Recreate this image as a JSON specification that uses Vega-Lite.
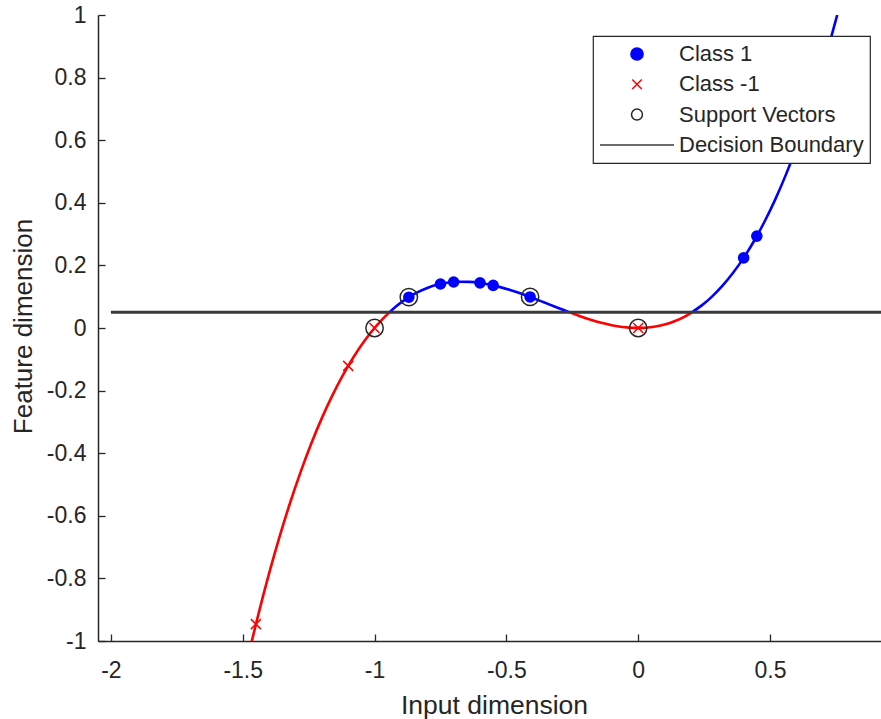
{
  "$schema": "https://vega.github.io/schema/vega-lite/v6.json",
  "autosize": {"type": "none"},
  "width": 783,
  "height": 626,
  "padding": {"left": 98, "top": 15, "right": 0, "bottom": 78},
  "background": "white",
  "config": {"view": {"stroke": null}},
  "datasets": {
    "curve": [
      {"x": -1.4656, "y": -1.0, "series": "Class -1", "seg": 1},
      {"x": -1.44, "y": -0.91238, "series": "Class -1", "seg": 1},
      {"x": -1.40, "y": -0.784, "series": "Class -1", "seg": 1},
      {"x": -1.36, "y": -0.665856, "series": "Class -1", "seg": 1},
      {"x": -1.32, "y": -0.557568, "series": "Class -1", "seg": 1},
      {"x": -1.28, "y": -0.458752, "series": "Class -1", "seg": 1},
      {"x": -1.24, "y": -0.369024, "series": "Class -1", "seg": 1},
      {"x": -1.20, "y": -0.288, "series": "Class -1", "seg": 1},
      {"x": -1.16, "y": -0.215296, "series": "Class -1", "seg": 1},
      {"x": -1.12, "y": -0.150528, "series": "Class -1", "seg": 1},
      {"x": -1.08, "y": -0.093312, "series": "Class -1", "seg": 1},
      {"x": -1.04, "y": -0.043264, "series": "Class -1", "seg": 1},
      {"x": -1.00, "y": 0.0, "series": "Class -1", "seg": 1},
      {"x": -0.97, "y": 0.028227, "series": "Class -1", "seg": 1},
      {"x": -0.944, "y": 0.0499, "series": "Class -1", "seg": 1},
      {"x": -0.944, "y": 0.0499, "series": "Class 1", "seg": 2},
      {"x": -0.92, "y": 0.067712, "series": "Class 1", "seg": 2},
      {"x": -0.88, "y": 0.092928, "series": "Class 1", "seg": 2},
      {"x": -0.84, "y": 0.112896, "series": "Class 1", "seg": 2},
      {"x": -0.80, "y": 0.128, "series": "Class 1", "seg": 2},
      {"x": -0.76, "y": 0.138624, "series": "Class 1", "seg": 2},
      {"x": -0.72, "y": 0.145152, "series": "Class 1", "seg": 2},
      {"x": -0.68, "y": 0.147968, "series": "Class 1", "seg": 2},
      {"x": -0.64, "y": 0.147456, "series": "Class 1", "seg": 2},
      {"x": -0.60, "y": 0.144, "series": "Class 1", "seg": 2},
      {"x": -0.56, "y": 0.137984, "series": "Class 1", "seg": 2},
      {"x": -0.52, "y": 0.129792, "series": "Class 1", "seg": 2},
      {"x": -0.48, "y": 0.119808, "series": "Class 1", "seg": 2},
      {"x": -0.44, "y": 0.108416, "series": "Class 1", "seg": 2},
      {"x": -0.40, "y": 0.096, "series": "Class 1", "seg": 2},
      {"x": -0.36, "y": 0.082944, "series": "Class 1", "seg": 2},
      {"x": -0.32, "y": 0.069632, "series": "Class 1", "seg": 2},
      {"x": -0.28, "y": 0.056448, "series": "Class 1", "seg": 2},
      {"x": -0.26, "y": 0.050024, "series": "Class 1", "seg": 2},
      {"x": -0.26, "y": 0.050024, "series": "Class -1", "seg": 3},
      {"x": -0.22, "y": 0.037752, "series": "Class -1", "seg": 3},
      {"x": -0.18, "y": 0.026568, "series": "Class -1", "seg": 3},
      {"x": -0.14, "y": 0.016856, "series": "Class -1", "seg": 3},
      {"x": -0.10, "y": 0.009, "series": "Class -1", "seg": 3},
      {"x": -0.06, "y": 0.003384, "series": "Class -1", "seg": 3},
      {"x": -0.02, "y": 0.000392, "series": "Class -1", "seg": 3},
      {"x": 0.02, "y": 0.000408, "series": "Class -1", "seg": 3},
      {"x": 0.06, "y": 0.003816, "series": "Class -1", "seg": 3},
      {"x": 0.10, "y": 0.011, "series": "Class -1", "seg": 3},
      {"x": 0.14, "y": 0.022344, "series": "Class -1", "seg": 3},
      {"x": 0.18, "y": 0.038232, "series": "Class -1", "seg": 3},
      {"x": 0.204, "y": 0.050106, "series": "Class -1", "seg": 3},
      {"x": 0.204, "y": 0.050106, "series": "Class 1", "seg": 4},
      {"x": 0.24, "y": 0.071424, "series": "Class 1", "seg": 4},
      {"x": 0.28, "y": 0.100352, "series": "Class 1", "seg": 4},
      {"x": 0.32, "y": 0.135168, "series": "Class 1", "seg": 4},
      {"x": 0.36, "y": 0.176256, "series": "Class 1", "seg": 4},
      {"x": 0.40, "y": 0.224, "series": "Class 1", "seg": 4},
      {"x": 0.44, "y": 0.278784, "series": "Class 1", "seg": 4},
      {"x": 0.48, "y": 0.340992, "series": "Class 1", "seg": 4},
      {"x": 0.52, "y": 0.411008, "series": "Class 1", "seg": 4},
      {"x": 0.56, "y": 0.489216, "series": "Class 1", "seg": 4},
      {"x": 0.60, "y": 0.576, "series": "Class 1", "seg": 4},
      {"x": 0.64, "y": 0.671744, "series": "Class 1", "seg": 4},
      {"x": 0.68, "y": 0.776832, "series": "Class 1", "seg": 4},
      {"x": 0.72, "y": 0.891648, "series": "Class 1", "seg": 4},
      {"x": 0.755, "y": 1.0004, "series": "Class 1", "seg": 4}
    ],
    "pos": [
      {"x": -0.87, "y": 0.0984, "series": "Class 1"},
      {"x": -0.75, "y": 0.1406, "series": "Class 1"},
      {"x": -0.70, "y": 0.147, "series": "Class 1"},
      {"x": -0.60, "y": 0.144, "series": "Class 1"},
      {"x": -0.55, "y": 0.1361, "series": "Class 1"},
      {"x": -0.41, "y": 0.0992, "series": "Class 1"},
      {"x": 0.40, "y": 0.224, "series": "Class 1"},
      {"x": 0.45, "y": 0.2936, "series": "Class 1"}
    ],
    "neg": [
      {"x": -1.45, "y": -0.946, "series": "Class -1"},
      {"x": -1.10, "y": -0.121, "series": "Class -1"},
      {"x": -1.00, "y": 0.0, "series": "Class -1"},
      {"x": 0.00, "y": 0.0, "series": "Class -1"}
    ],
    "sv": [
      {"x": -1.00, "y": 0.0, "series": "Support Vectors"},
      {"x": -0.87, "y": 0.0984, "series": "Support Vectors"},
      {"x": -0.41, "y": 0.0992, "series": "Support Vectors"},
      {"x": 0.00, "y": 0.0, "series": "Support Vectors"}
    ],
    "db": [
      {"x": -2.0, "x2": 1.0, "y": 0.05, "series": "Decision Boundary"}
    ]
  },
  "encoding": {
    "x": {
      "field": "x", "type": "quantitative",
      "scale": {"domain": [-2.049, 0.921], "nice": false, "zero": false},
      "axis": {
        "values": [-2, -1.5, -1, -0.5, 0, 0.5],
        "labelExpr": "'' + datum.value",
        "grid": false,
        "tickSize": -7, "tickColor": "#262626", "tickWidth": 1.3,
        "domainColor": "#262626", "domainWidth": 1.5,
        "labelFont": "Liberation Sans", "labelFontSize": 23, "labelColor": "#262626",
        "labelPadding": 25, "labelFlush": false, "labelOverlap": false, "labelBound": false,
        "title": "Input dimension",
        "titleFont": "Liberation Sans", "titleFontSize": 26.5, "titleFontWeight": "normal",
        "titleColor": "#262626", "titleBaseline": "alphabetic", "titleX": 396, "titleY": 72
      }
    },
    "y": {
      "field": "y", "type": "quantitative",
      "scale": {"domain": [-1, 1], "nice": false, "zero": false},
      "axis": {
        "values": [-1, -0.8, -0.6, -0.4, -0.2, 0, 0.2, 0.4, 0.6, 0.8, 1],
        "labelExpr": "'' + datum.value",
        "grid": false,
        "tickSize": -7, "tickColor": "#262626", "tickWidth": 1.3,
        "domainColor": "#262626", "domainWidth": 1.5,
        "labelFont": "Liberation Sans", "labelFontSize": 23, "labelColor": "#262626",
        "labelPadding": 19, "labelFlush": false, "labelOverlap": false, "labelBound": false,
        "title": "Feature dimension",
        "titleFont": "Liberation Sans", "titleFontSize": 26, "titleFontWeight": "normal",
        "titleColor": "#262626", "titleBaseline": "alphabetic", "titleAlign": "center",
        "titleX": -67, "titleY": 311, "titleAngle": -90
      }
    },
    "color": {
      "field": "series", "type": "nominal",
      "scale": {
        "domain": ["Class 1", "Class -1", "Support Vectors", "Decision Boundary"],
        "range": ["#0000ff", "#ff0000", "#262626", "#3a3a3a"]
      },
      "legend": {
        "title": null,
        "orient": "none", "legendX": 495, "legendY": 21,
        "direction": "vertical", "columns": 1,
        "fillColor": "white", "strokeColor": "#262626",
        "padding": 6, "clipHeight": 24, "rowPadding": 6.3,
        "symbolOffset": 27, "labelOffset": 31, "labelLimit": 400,
        "labelFont": "Liberation Sans", "labelFontSize": 22, "labelColor": "#262626",
        "encode": {
          "legend": {"update": {"strokeWidth": {"value": 1.2}}},
          "symbols": {
            "update": {
              "shape": {"signal": "datum.value === 'Class -1' ? 'M-1,-1L1,1M-1,1L1,-1' : datum.value === 'Decision Boundary' ? 'stroke' : 'circle'"},
              "size": {"signal": "datum.value === 'Decision Boundary' ? 5476 : datum.value === 'Class 1' ? 150 : datum.value === 'Class -1' ? 90 : 120"},
              "fillOpacity": {"signal": "datum.value === 'Class 1' ? 1 : 0"},
              "stroke": {"signal": "datum.value === 'Class 1' ? 'transparent' : datum.value === 'Class -1' ? '#ff0000' : '#1a1a1a'"},
              "strokeWidth": {"value": 1.5},
              "opacity": {"value": 1}
            }
          }
        }
      }
    }
  },
  "layer": [
    {
      "data": {"name": "curve"},
      "mark": {"type": "line", "strokeWidth": 2.6, "interpolate": "monotone", "clip": true},
      "encoding": {"detail": {"field": "seg", "type": "nominal"}}
    },
    {
      "data": {"name": "db"},
      "mark": {"type": "rule", "strokeWidth": 3, "clip": true},
      "encoding": {"x2": {"field": "x2"}}
    },
    {
      "data": {"name": "pos"},
      "mark": {"type": "point", "shape": "circle", "filled": true, "size": 135, "opacity": 1}
    },
    {
      "data": {"name": "neg"},
      "mark": {"type": "point", "shape": "M-1,-1L1,1M-1,1L1,-1", "filled": false, "size": 100, "strokeWidth": 1.5, "opacity": 1}
    },
    {
      "data": {"name": "sv"},
      "mark": {"type": "point", "shape": "circle", "filled": false, "size": 300, "strokeWidth": 1.5, "opacity": 1}
    }
  ]
}
